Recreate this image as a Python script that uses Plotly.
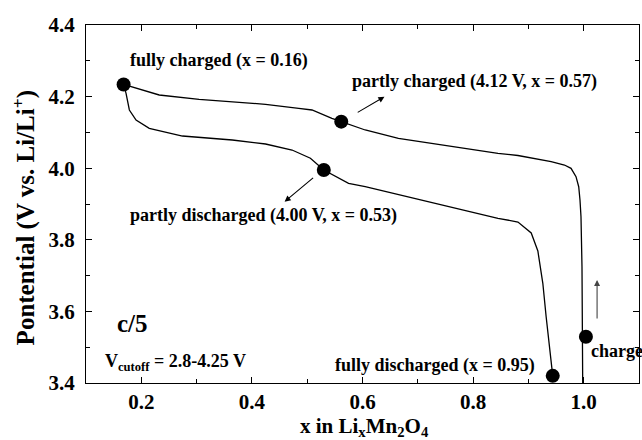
import plotly.graph_objects as go

# Charge curve (x in LixMn2O4, potential V) from fully charged to x~1.0
charge_x = [0.168, 0.2324, 0.3045, 0.3645, 0.4247, 0.4847, 0.5087, 0.5447, 0.5616,
            0.6049, 0.6649, 0.7249, 0.7850, 0.8450, 0.8811, 0.9112, 0.9411, 0.9652,
            0.9771, 0.9861, 0.9910, 0.9933, 0.9951, 0.9969, 0.9982, 0.9982]
charge_y = [4.234, 4.2045, 4.1925, 4.1858, 4.1785, 4.1673, 4.1626, 4.1394, 4.130,
            4.1067, 4.0835, 4.0696, 4.0556, 4.0416, 4.0355, 4.0277, 4.0182, 4.0089,
            3.9997, 3.9763, 3.9483, 3.9112, 3.8645, 3.7249, 3.5397, 3.400]

# Discharge curve from fully charged to fully discharged
discharge_x = [0.168, 0.1724, 0.1784, 0.1905, 0.2144, 0.2744, 0.3645, 0.4247, 0.4726,
               0.5058, 0.530, 0.5748, 0.6049, 0.6950, 0.7850, 0.8450, 0.8811, 0.9051,
               0.9171, 0.9261, 0.9321, 0.9382, 0.944]
discharge_y = [4.234, 4.2092, 4.1626, 4.1346, 4.1115, 4.0899, 4.0788, 4.0676, 4.0508,
               4.0277, 3.995, 3.9578, 3.9483, 3.9159, 3.8832, 3.8601, 3.8497, 3.8190,
               3.7687, 3.6785, 3.5852, 3.4922, 3.420]

# Marked states
state_x = [0.168, 0.5616, 0.530, 0.944, 1.004]
state_y = [4.234, 4.130, 3.995, 3.420, 3.529]

x_range = [0.1, 1.1]
y_range = [3.4, 4.4]

FONT = "Liberation Serif"

fig = go.Figure()
fig.add_trace(go.Scatter(x=charge_x, y=charge_y, mode="lines",
                         line=dict(color="black", width=1.3), hoverinfo="skip"))
fig.add_trace(go.Scatter(x=discharge_x, y=discharge_y, mode="lines",
                         line=dict(color="black", width=1.3), hoverinfo="skip"))
fig.add_trace(go.Scatter(x=state_x, y=state_y, mode="markers",
                         marker=dict(color="black", size=14), hoverinfo="skip"))

def txt(s, size=18):
    return dict(text="<b>" + s + "</b>", font=dict(family=FONT, size=size, color="black"),
                showarrow=False, xref="x", yref="y")

ann = []
ann.append(dict(x=0.1758, y=4.302, xanchor="left", yanchor="middle", **txt("fully charged (x = 0.16)")))
ann.append(dict(x=0.5765, y=4.2416, xanchor="left", yanchor="middle", **txt("partly charged (4.12 V, x = 0.57)")))
ann.append(dict(x=0.1758, y=3.869, xanchor="left", yanchor="middle", **txt("partly discharged (4.00 V, x = 0.53)")))
ann.append(dict(x=0.9159, y=3.450, xanchor="right", yanchor="middle", **txt("fully discharged (x = 0.95)")))
ann.append(dict(x=1.0097, y=3.4894, xanchor="left", yanchor="middle", **txt("charge")))
ann.append(dict(x=0.1523, y=3.5676, xanchor="left", yanchor="middle", **txt("c/5", 25)))
ann.append(dict(x=0.1307, y=3.458, xanchor="left", yanchor="middle",
                **txt("V<sub>cutoff</sub> = 2.8-4.25 V")))

# arrows
for (tx, ty, hx, hy, col) in [(0.5886, 4.1534, 0.6397, 4.1997, "black"),
                              (0.5134, 3.9763, 0.4592, 3.9064, "black"),
                              (1.0242, 3.576, 1.0242, 3.6877, "#444444")]:
    ann.append(dict(x=hx, y=hy, ax=tx, ay=ty, xref="x", yref="y", axref="x", ayref="y",
                    text="", showarrow=True, arrowhead=2, arrowsize=1.1, arrowwidth=1.1,
                    arrowcolor=col, standoff=0, startstandoff=0))

# axis titles
ann.append(dict(x=-0.112, y=0.46, xref="paper", yref="paper", textangle=-90,
                xanchor="center", yanchor="middle", showarrow=False,
                text="<b>Pontential (V vs. Li/Li<sup>+</sup>)</b>",
                font=dict(family=FONT, size=25, color="black")))
ann.append(dict(x=0.503, y=-0.123, xref="paper", yref="paper",
                xanchor="center", yanchor="middle", showarrow=False,
                text="<b>x in Li<sub>x</sub>Mn<sub>2</sub>O<sub>4</sub></b>",
                font=dict(family=FONT, size=21, color="black")))

axis_common = dict(showgrid=False, zeroline=False, showline=True, linecolor="black", linewidth=1.2,
                   mirror="allticks", ticks="inside", ticklen=6, tickwidth=1.2, tickcolor="black",
                   tickfont=dict(family=FONT, size=21, color="black", weight="bold"),
                   tickformat=".1f")

fig.update_layout(
    width=642, height=440,
    margin=dict(l=86, r=3, t=25, b=57),
    paper_bgcolor="white", plot_bgcolor="white",
    showlegend=False,
    annotations=ann,
    xaxis=dict(range=x_range, tickmode="linear", tick0=0.2, dtick=0.2,
               minor=dict(tickmode="linear", tick0=0.1, dtick=0.1, ticks="inside", ticklen=4,
                          tickwidth=1, tickcolor="black", showgrid=False),
               **axis_common),
    yaxis=dict(range=y_range, tickmode="linear", tick0=3.4, dtick=0.2, ticklabelstandoff=6,
               minor=dict(tickmode="linear", tick0=3.4, dtick=0.1, ticks="inside", ticklen=4,
                          tickwidth=1, tickcolor="black", showgrid=False),
               **axis_common),
)

fig.write_html("out.html")
